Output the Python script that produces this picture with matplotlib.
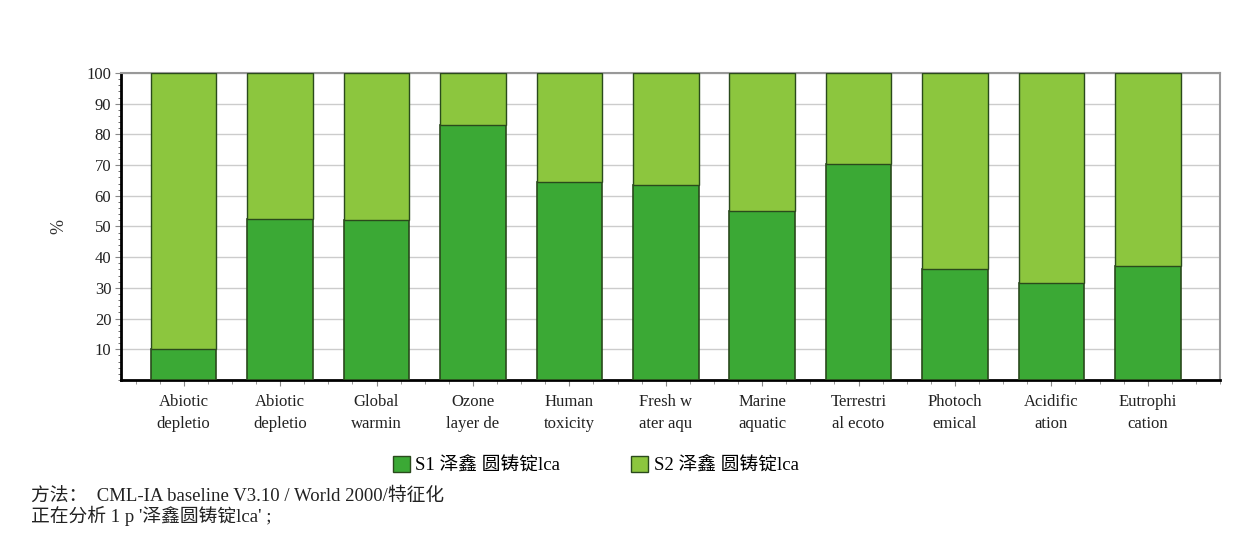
import matplotlib.pyplot as plt
import numpy as np
from matplotlib.patches import Patch
from matplotlib.ticker import MultipleLocator

categories = ["Abiotic\ndepletio", "Abiotic\ndepletio", "Global\nwarmin", "Ozone\nlayer de",
              "Human\ntoxicity", "Fresh w\nater aqu", "Marine\naquatic", "Terrestri\nal ecoto",
              "Photoch\nemical", "Acidific\nation", "Eutrophi\ncation"]
s1 = np.array([10, 52.5, 52, 83, 64.5, 63.5, 55, 70.5, 36, 31.5, 37])
s2 = 100 - s1
series_names = ["S1 泽鑫 圆铸锭lca", "S2 泽鑫 圆铸锭lca"]

dark = "#3ba935"
light = "#8cc63e"
edge = "#2a4a1c"
serif = ["Liberation Serif", "Noto Sans CJK SC"]

fig = plt.figure(figsize=(12.57, 5.48), dpi=100)
ax = fig.add_axes([0.0963, 0.3066, 0.8743, 0.5602])

x = np.arange(len(categories))
ax.bar(x, s1, width=0.68, color=dark, edgecolor=edge, linewidth=1.2, zorder=3)
ax.bar(x, s2, bottom=s1, width=0.68, color=light, edgecolor=edge, linewidth=1.0, zorder=3)

ax.set_xlim(-0.65, len(categories) - 0.35)
ax.set_ylim(0, 100)
ax.set_yticks(np.arange(10, 101, 10))
ax.yaxis.set_minor_locator(MultipleLocator(2))
ax.set_xticks(x)
ax.set_xticks(np.arange(-0.5, len(categories), 0.25), minor=True)
ax.set_xticklabels(categories, fontfamily=serif, fontsize=12, color="#222222", linespacing=1.55)
for lab in ax.get_yticklabels():
    lab.set_fontfamily(serif)
    lab.set_fontsize(12)
    lab.set_color("#222222")
ax.tick_params(axis="x", which="major", length=4, color="#888888", pad=6)
ax.tick_params(axis="x", which="minor", length=3, color="#888888")
ax.tick_params(axis="y", which="major", length=4, color="#888888", pad=3)
ax.tick_params(axis="y", which="minor", length=2, color="#555555")
ax.grid(axis="y", color="#cccccc", linewidth=1, zorder=0)

ax.spines["left"].set_linewidth(2)
ax.spines["bottom"].set_linewidth(2)
ax.spines["top"].set_color("#999999")
ax.spines["right"].set_color("#999999")
ax.spines["top"].set_linewidth(1.5)
ax.spines["right"].set_linewidth(1.5)

ax.set_ylabel("%", fontfamily=serif, fontsize=13, color="#333333", labelpad=14)

handles = [Patch(facecolor=dark, edgecolor=edge), Patch(facecolor=light, edgecolor=edge)]
fig.legend(handles, series_names, loc="center", bbox_to_anchor=(0.474, 0.151), ncol=2,
           frameon=False, prop={"family": serif, "size": 13.5}, handlelength=0.9,
           handleheight=0.9, columnspacing=3.8, handletextpad=0.3)

fig.text(0.025, 0.095, "方法：  CML-IA baseline V3.10 / World 2000/特征化",
         fontfamily=serif, fontsize=13.5, color="#222222", va="center")
fig.text(0.025, 0.058, "正在分析 1 p '泽鑫圆铸锭lca' ;",
         fontfamily=serif, fontsize=13.5, color="#222222", va="center")

fig.savefig("out.png", dpi=100)
